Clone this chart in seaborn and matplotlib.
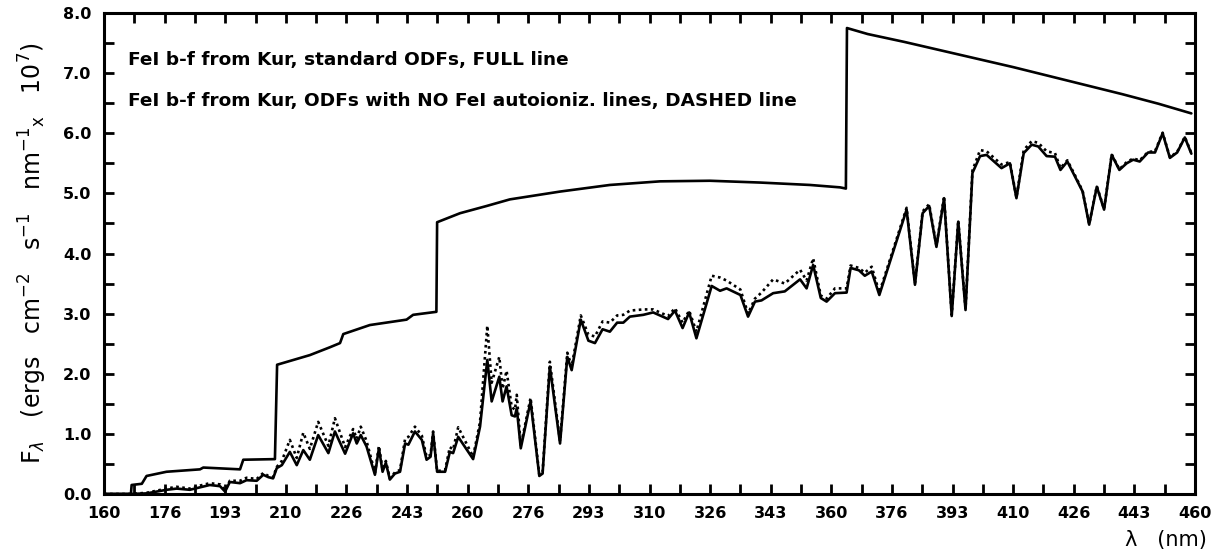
import numpy as np
import pandas as pd
import matplotlib
matplotlib.use("Agg")
import matplotlib.pyplot as plt
import seaborn as sns

# ---------------- data ----------------
# upper curve (continuum-like, FULL line)
wl_upper = [160.0, 167.4, 167.6, 170.4, 171.7, 177.2, 186.4, 187.3, 197.4, 198.3,
            207.0, 207.6, 216.6, 222.1, 224.9, 225.8, 233.1, 243.2, 245.0, 251.4,
            251.6, 257.9, 265.2, 271.6, 285.4, 299.1, 312.9, 326.6, 340.4, 354.1,
            362.4, 364.0, 364.3, 370.0, 380.0, 390.0, 400.0, 410.0, 420.0, 430.0,
            440.0, 450.0, 459.0]
flux_upper = [0.00, 0.00, 0.15, 0.17, 0.30, 0.37, 0.41, 0.44, 0.41, 0.57,
              0.58, 2.15, 2.31, 2.44, 2.51, 2.66, 2.81, 2.90, 2.98, 3.03,
              4.52, 4.67, 4.79, 4.90, 5.03, 5.14, 5.20, 5.21, 5.18, 5.14,
              5.10, 5.08, 7.75, 7.65, 7.52, 7.38, 7.24, 7.10, 6.95, 6.80,
              6.65, 6.49, 6.33]

# lower curves: standard ODFs (FULL) and no FeI autoioniz. lines (DASHED)
wl_lower = [160.0, 167.0, 171.7, 177.2, 180.0, 183.6, 186.4, 189.1, 191.9, 193.3,
            194.6, 197.4, 199.2, 202.0, 203.8, 205.2, 206.5, 207.5, 208.9, 211.1,
            213.0, 214.8, 216.6, 218.9, 221.7, 223.5, 226.3, 228.5, 229.5, 230.6,
            232.2, 234.5, 235.6, 236.6, 237.5, 238.6, 240.0, 241.4, 242.8, 243.7,
            245.5, 247.4, 248.7, 249.8, 250.5, 251.6, 253.8, 255.1, 256.0, 257.4,
            261.5, 263.4, 265.4, 266.6, 268.7, 269.6, 270.7, 272.1, 273.0, 273.5,
            274.6, 277.3, 279.7, 280.6, 282.6, 285.4, 287.4, 288.6, 291.1, 293.2,
            295.0, 297.1, 299.1, 301.1, 302.8, 304.6, 308.3, 311.0, 315.1, 317.0,
            319.1, 320.9, 322.9, 327.1, 329.4, 331.2, 335.0, 337.1, 339.0, 340.8,
            344.0, 347.2, 351.4, 353.2, 355.0, 357.1, 358.7, 361.0, 364.2, 365.3,
            367.6, 369.2, 371.1, 373.2, 380.7, 383.0, 385.1, 386.9, 388.9, 391.0,
            393.1, 394.9, 396.9, 398.8, 400.9, 402.7, 406.8, 409.1, 410.9, 412.9,
            415.1, 416.9, 419.2, 421.5, 423.0, 424.9, 427.0, 429.1, 430.9, 433.0,
            435.0, 437.1, 439.2, 441.2, 443.0, 444.8, 447.1, 449.0, 451.1, 453.1,
            455.1, 457.2, 459.0]
flux_full = [0.00, 0.00, 0.01, 0.07, 0.09, 0.07, 0.11, 0.15, 0.13, 0.04,
             0.20, 0.18, 0.23, 0.22, 0.32, 0.28, 0.26, 0.43, 0.48, 0.70,
             0.48, 0.73, 0.57, 0.98, 0.68, 1.04, 0.67, 1.01, 0.84, 0.98,
             0.79, 0.32, 0.76, 0.37, 0.52, 0.24, 0.34, 0.37, 0.84, 0.82,
             1.04, 0.90, 0.57, 0.62, 1.01, 0.37, 0.37, 0.70, 0.68, 0.95,
             0.58, 1.12, 2.23, 1.54, 1.95, 1.54, 1.79, 1.31, 1.29, 1.43,
             0.76, 1.54, 0.30, 0.34, 2.12, 0.84, 2.28, 2.06, 2.90, 2.55,
             2.51, 2.74, 2.70, 2.85, 2.85, 2.95, 2.98, 3.02, 2.91, 3.05,
             2.76, 3.02, 2.59, 3.46, 3.38, 3.42, 3.31, 2.95, 3.20, 3.22,
             3.34, 3.37, 3.57, 3.42, 3.81, 3.26, 3.20, 3.34, 3.35, 3.76,
             3.72, 3.63, 3.70, 3.31, 4.73, 3.48, 4.67, 4.79, 4.11, 4.92,
             2.96, 4.53, 3.06, 5.34, 5.62, 5.64, 5.42, 5.50, 4.92, 5.67,
             5.81, 5.78, 5.62, 5.61, 5.39, 5.53, 5.28, 5.03, 4.48, 5.11,
             4.73, 5.64, 5.39, 5.50, 5.56, 5.53, 5.68, 5.68, 6.00, 5.59,
             5.68, 5.93, 5.66]
flux_dashed = [0.00, 0.00, 0.02, 0.09, 0.12, 0.09, 0.14, 0.18, 0.16, 0.06,
               0.22, 0.22, 0.27, 0.25, 0.35, 0.30, 0.28, 0.45, 0.55, 0.90,
               0.60, 1.02, 0.75, 1.20, 0.80, 1.26, 0.78, 1.08, 0.92, 1.12,
               0.88, 0.35, 0.80, 0.40, 0.55, 0.26, 0.36, 0.40, 0.92, 0.95,
               1.12, 0.97, 0.62, 0.65, 1.04, 0.38, 0.40, 0.78, 0.74, 1.11,
               0.62, 1.20, 2.80, 1.85, 2.28, 1.75, 2.05, 1.45, 1.40, 1.65,
               0.80, 1.60, 0.32, 0.36, 2.20, 0.88, 2.35, 2.12, 2.97, 2.65,
               2.62, 2.87, 2.85, 2.97, 2.98, 3.05, 3.07, 3.07, 2.96, 3.09,
               2.85, 3.05, 2.70, 3.63, 3.60, 3.55, 3.40, 3.00, 3.25, 3.35,
               3.57, 3.50, 3.73, 3.55, 3.92, 3.30, 3.25, 3.42, 3.42, 3.80,
               3.76, 3.68, 3.78, 3.35, 4.76, 3.50, 4.70, 4.82, 4.13, 4.95,
               2.98, 4.55, 3.08, 5.38, 5.72, 5.70, 5.48, 5.52, 4.93, 5.72,
               5.87, 5.84, 5.70, 5.67, 5.42, 5.55, 5.30, 5.04, 4.49, 5.12,
               4.74, 5.65, 5.40, 5.52, 5.58, 5.55, 5.69, 5.70, 6.01, 5.60,
               5.69, 5.94, 5.67]

x_ticks = np.linspace(160, 460, 19)
x_tick_labels = [str(int(v)) for v in x_ticks]
y_ticks = [0.0, 1.0, 2.0, 3.0, 4.0, 5.0, 6.0, 7.0, 8.0]
y_tick_labels = ["%.1f" % v for v in y_ticks]

legend_lines = ["FeI b-f from Kur, standard ODFs, FULL line",
                "FeI b-f from Kur, ODFs with NO FeI autoioniz. lines, DASHED line"]

# ---------------- plotting ----------------
sns.set_style("ticks")
plt.rcParams['font.family'] = ['DejaVu Sans']
plt.rcParams['text.color'] = 'black'
plt.rcParams['axes.labelcolor'] = 'black'

fig = plt.figure(figsize=(12.3, 5.54), dpi=100)
ax = fig.add_axes([104 / 1230, 60 / 554, (1195 - 104) / 1230, (494 - 13) / 554])

df_up = pd.DataFrame({"wl": wl_upper, "flux": flux_upper})
df_low = pd.DataFrame({"wl": wl_lower, "full": flux_full, "dashed": flux_dashed})

sns.lineplot(data=df_low, x="wl", y="dashed", ax=ax, color="black", linewidth=1.9,
             linestyle=(0, (1.0, 1.3)), estimator=None, sort=False)
sns.lineplot(data=df_low, x="wl", y="full", ax=ax, color="black", linewidth=1.9,
             estimator=None, sort=False)
sns.lineplot(data=df_up, x="wl", y="flux", ax=ax, color="black", linewidth=1.9,
             estimator=None, sort=False)

ax.set_xlim(160, 460)
ax.set_ylim(0, 8)

# ticks every 8.33 nm (labels every other one), y ticks every 0.5
all_x = np.linspace(160, 460, 37)
ax.set_xticks(all_x)
ax.set_xticklabels([x_tick_labels[i // 2] if i % 2 == 0 else "" for i in range(37)])
all_y = np.arange(0, 8.01, 0.5)
ax.set_yticks(all_y)
ax.set_yticklabels([y_tick_labels[int(round(v))] if abs(v - round(v)) < 1e-6 else ""
                    for v in all_y])

ax.tick_params(axis="both", which="major", direction="in", length=7, width=2,
               top=True, right=True, labelsize=11.5, pad=9, colors="black")
for lab in ax.get_xticklabels() + ax.get_yticklabels():
    lab.set_fontweight("bold")

for sp in ax.spines.values():
    sp.set_visible(True)
    sp.set_linewidth(2.2)
    sp.set_color("black")

ax.set_xlabel("")
ax.set_ylabel(r"F$_\lambda$   (ergs   cm$^{-2}$   s$^{-1}$   nm$^{-1}$$_{\rm x}$   10$^{7}$)",
              fontsize=17, labelpad=10, color="black")
fig.text(1166 / 1230, 1 - 540 / 554, "λ   (nm)", fontsize=15,
         ha="center", va="center", color="black")

ax.text(166.6, 7.22, legend_lines[0], fontsize=13.3, fontweight="bold",
        va="center", ha="left", color="black")
ax.text(166.6, 6.54, legend_lines[1], fontsize=13.3, fontweight="bold",
        va="center", ha="left", color="black")

fig.savefig("out.png", dpi=100, facecolor="white")
